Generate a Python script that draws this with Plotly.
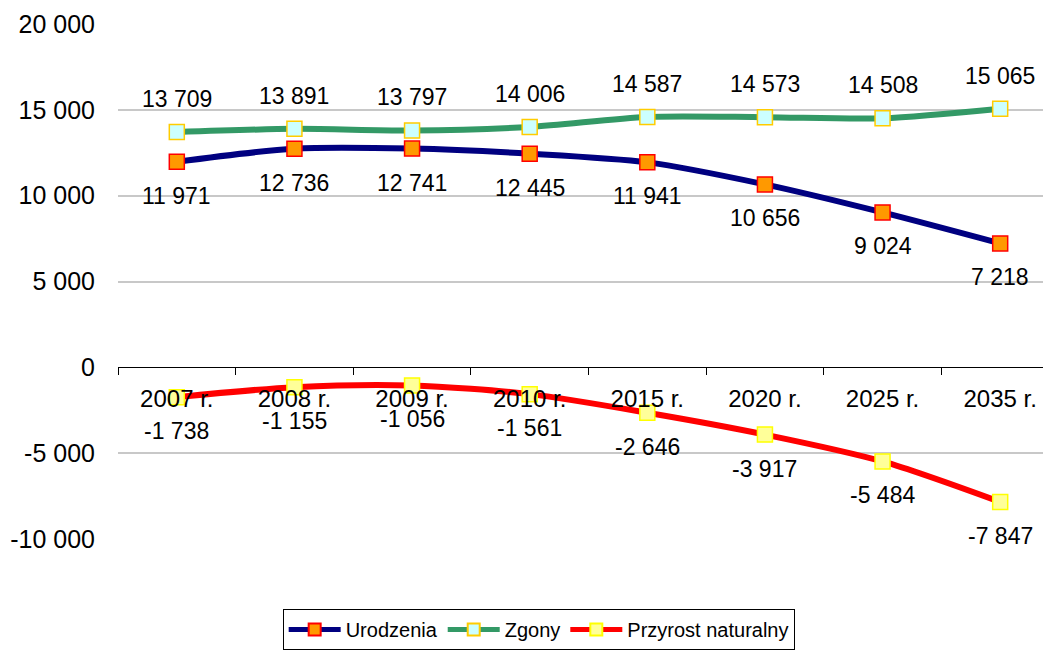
import plotly.graph_objects as go

categories = ["2007 r.", "2008 r.", "2009 r.", "2010 r.", "2015 r.", "2020 r.", "2025 r.", "2035 r."]
urodzenia = [11971, 12736, 12741, 12445, 11941, 10656, 9024, 7218]
zgony = [13709, 13891, 13797, 14006, 14587, 14573, 14508, 15065]
przyrost = [-1738, -1155, -1056, -1561, -2646, -3917, -5484, -7847]
y_tick_vals = [-10000, -5000, 0, 5000, 10000, 15000, 20000]
y_tick_text = ["-10 000", "-5 000", "0", "5 000", "10 000", "15 000", "20 000"]

FONT = "Liberation Sans, Arial, sans-serif"
FS = 23


def fmt(v):
    return f"{v:,}".replace(",", " ")


series = [
    ("Urodzenia", urodzenia, "#000080", "#FF9900", "#FF0000", -34),
    ("Zgony", zgony, "#339966", "#CCFFFF", "#FFCC00", 33),
    ("Przyrost naturalny", przyrost, "#FF0000", "#FFFF99", "#FFFF00", -34),
]

fig = go.Figure()
annotations = []
for name, vals, lc, mfill, mline, shift in series:
    fig.add_trace(go.Scatter(
        x=categories, y=vals, name=name, mode="lines+markers",
        line=dict(color=lc, width=6, shape="spline", smoothing=0.8),
        marker=dict(symbol="square", size=15, color=mfill, line=dict(color=mline, width=1.5)),
        cliponaxis=False,
    ))
    for c, v in zip(categories, vals):
        annotations.append(dict(
            x=c, y=v, xref="x", yref="y", text=fmt(v), showarrow=False,
            yshift=shift, font=dict(family=FONT, size=FS, color="black"),
        ))

fig.update_layout(
    width=1051, height=655,
    margin=dict(l=110, r=0, t=16, b=124, autoexpand=False),
    paper_bgcolor="white", plot_bgcolor="white",
    font=dict(family=FONT, size=FS, color="black"),
    annotations=annotations,
    showlegend=True,
    legend=dict(
        orientation="h", x=0.175, xanchor="left", y=-0.136, yanchor="top",
        bordercolor="black", borderwidth=1, font=dict(family=FONT, size=20, color="black"),
        itemsizing="constant", itemwidth=52, tracegroupgap=0,
    ),
    xaxis=dict(
        type="category", categoryorder="array", categoryarray=categories,
        range=[-0.5, 7.5], anchor="free", position=1 / 3, automargin=False,
        showline=True, linecolor="black", linewidth=1,
        ticks="outside", ticklen=7, tickcolor="black", tickwidth=1,
        tickson="boundaries", showgrid=False, ticklabelstandoff=10,
        tickfont=dict(family=FONT, size=24, color="black"),
        layer="above traces",
    ),
    yaxis=dict(
        range=[-10000, 20000], tickvals=y_tick_vals, ticktext=y_tick_text,
        automargin=False,
        showgrid=True, gridcolor="#c8c8c8", gridwidth=2,
        zeroline=True, zerolinecolor="black", zerolinewidth=1,
        showline=False, ticks="", ticklabelstandoff=22,
        tickfont=dict(family=FONT, size=25, color="black"),
    ),
)

fig.write_html("out.html")
